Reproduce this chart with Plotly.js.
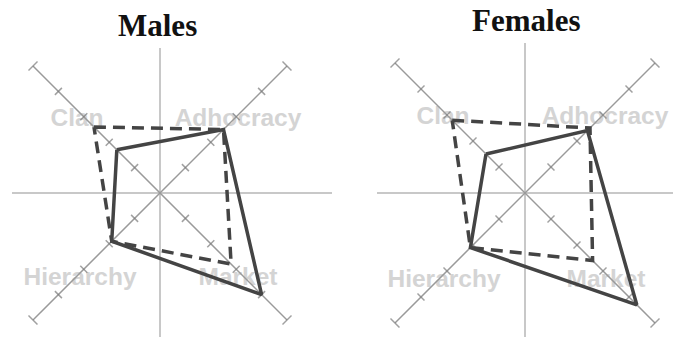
<!DOCTYPE html>
<html>
<head>
<meta charset="utf-8">
<script src="https://cdn.plot.ly/plotly-3.0.1.min.js"></script>
<style>html,body{margin:0;padding:0;background:#fff;}#chart{width:673px;height:339px;}</style>
</head>
<body>
<div id="chart"></div>
<script>
// ---- data ----
const dimensions = ['Clan', 'Adhocracy', 'Market', 'Hierarchy'];
const panelTitles = ['Males', 'Females'];
const malesSolid = [17, 25, 40, 19];
const malesDashed = [26, 25, 28, 19];
const femalesSolid = [15, 24, 43, 21];
const femalesDashed = [28, 25, 26, 21];
const axisTicks = [10, 20, 30, 40, 50];

// ---- layout geometry (pixels) ----
const W = 673, H = 339;
const dimAngles = [135, 45, -45, -135];
const panels = [
  { title: panelTitles[0], solid: malesSolid, dashed: malesDashed, cx: 160, cy: 193, k: 127 / 50,
    xdom: [12, 332], ydom: [48, 337], titleX: 157, titleY: 25,
    labelOff: [[-83, -73], [78, -73], [78, 86], [-80, 86]], xa: 'x', ya: 'y' },
  { title: panelTitles[1], solid: femalesSolid, dashed: femalesDashed, cx: 525, cy: 193, k: 130 / 50,
    xdom: [377, 673], ydom: [43, 337], titleX: 526, titleY: 20,
    labelOff: [[-82, -75], [80, -75], [81, 88], [-81, 88]], xa: 'x2', ya: 'y2' }
];

const rad = a => a * Math.PI / 180;
function polar(v, ang) { return [v * Math.cos(rad(ang)), v * Math.sin(rad(ang))]; }

const traces = [];
const layout = {
  width: W, height: H, margin: { l: 0, r: 0, t: 0, b: 0 },
  paper_bgcolor: '#fff', plot_bgcolor: 'rgba(0,0,0,0)',
  showlegend: false, annotations: []
};

panels.forEach((p, i) => {
  const xa = p.xa, ya = p.ya;
  const sfx = i === 0 ? '' : '2';
  const s = p.k * Math.SQRT2;
  layout['xaxis' + sfx] = {
    domain: [p.xdom[0] / W, p.xdom[1] / W],
    range: [(p.xdom[0] - p.cx) / s, (p.xdom[1] - p.cx) / s],
    showgrid: false, showticklabels: false, ticks: '', showline: false,
    zeroline: true, zerolinecolor: '#c8c8c8', zerolinewidth: 2, fixedrange: true,
    anchor: 'y' + sfx
  };
  layout['yaxis' + sfx] = {
    domain: [(H - p.ydom[1]) / H, (H - p.ydom[0]) / H],
    range: [-(p.ydom[1] - p.cy) / s, (p.cy - p.ydom[0]) / s],
    showgrid: false, showticklabels: false, ticks: '', showline: false,
    zeroline: true, zerolinecolor: '#c8c8c8', zerolinewidth: 2, fixedrange: true,
    anchor: 'x' + sfx
  };

  // labels (under everything)
  traces.push({
    type: 'scatter', mode: 'text', xaxis: xa, yaxis: ya, hoverinfo: 'skip',
    x: p.labelOff.map(o => o[0] / s), y: p.labelOff.map(o => -o[1] / s),
    text: dimensions, textposition: 'middle center', cliponaxis: false,
    textfont: { family: 'Liberation Sans, Arial, sans-serif', size: 24.5, color: '#d4d4d4', weight: 'bold' }
  });

  // diagonal axes
  const maxV = axisTicks[axisTicks.length - 1];
  [[45, 225, 'line-nw'], [135, -45, 'line-ne']].forEach(([a1, a2, sym]) => {
    const e1 = polar(maxV, a1), e2 = polar(maxV, a2);
    traces.push({ type: 'scatter', mode: 'lines', xaxis: xa, yaxis: ya, hoverinfo: 'skip',
      x: [e1[0], e2[0]], y: [e1[1], e2[1]], line: { color: '#9a9a9a', width: 1.5 } });
    const tx = [], ty = [], sz = [];
    axisTicks.forEach(v => {
      [a1, a2].forEach(a => {
        const pt = polar(v, a); tx.push(pt[0]); ty.push(pt[1]);
        sz.push(v === maxV ? 9 : 7);
      });
    });
    traces.push({ type: 'scatter', mode: 'markers', xaxis: xa, yaxis: ya, hoverinfo: 'skip',
      x: tx, y: ty, cliponaxis: false,
      marker: { symbol: sym, size: sz, line: { color: '#7a7a7a', width: 1.5 } } });
  });

  // polygons
  function poly(vals) {
    const pts = vals.map((v, j) => polar(v, dimAngles[j]));
    pts.push(pts[0]);
    return { x: pts.map(q => q[0]), y: pts.map(q => q[1]) };
  }
  const d = poly(p.dashed);
  traces.push({ type: 'scatter', mode: 'lines', xaxis: xa, yaxis: ya, x: d.x, y: d.y,
    line: { color: '#444444', width: 3.5, dash: '12px,7px' }, hoverinfo: 'skip' });
  const sd = poly(p.solid);
  traces.push({ type: 'scatter', mode: 'lines', xaxis: xa, yaxis: ya, x: sd.x, y: sd.y,
    line: { color: '#444444', width: 3.5 }, hoverinfo: 'skip' });

  layout.annotations.push({
    text: '<b>' + p.title + '</b>', xref: 'paper', yref: 'paper',
    x: p.titleX / W, y: (H - p.titleY) / H, xanchor: 'center', yanchor: 'middle',
    showarrow: false, font: { family: 'Liberation Serif, Times New Roman, serif', size: 31, color: '#111' }
  });
});

Plotly.newPlot('chart', traces, layout, { staticPlot: true, displayModeBar: false });
</script>
</body>
</html>
